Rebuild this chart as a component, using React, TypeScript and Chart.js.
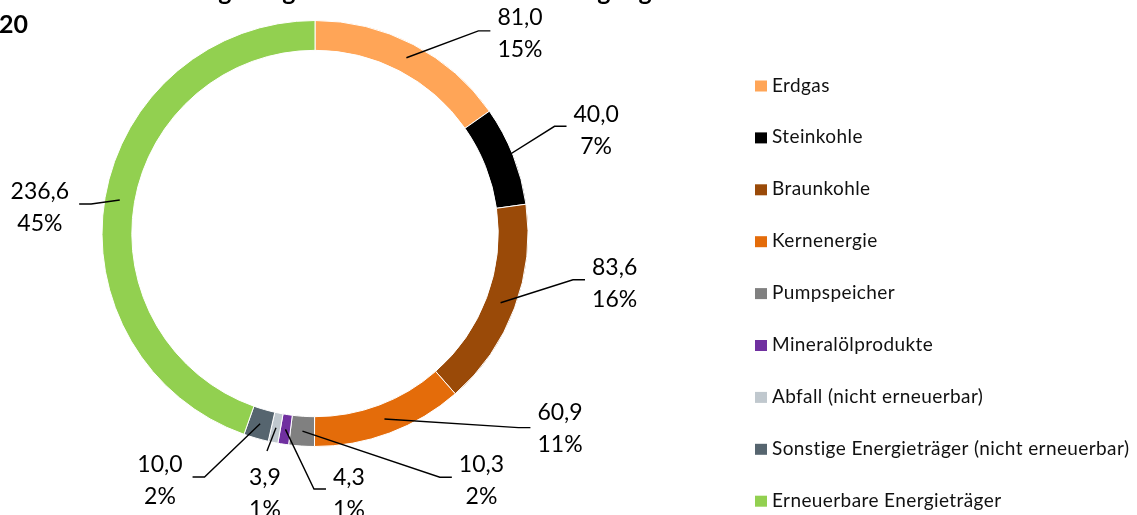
import React, { useEffect, useRef } from 'react';
import { Chart, registerables } from 'chart.js';

Chart.register(...registerables);

const categories = [
  'Erdgas',
  'Steinkohle',
  'Braunkohle',
  'Kernenergie',
  'Pumpspeicher',
  'Mineralölprodukte',
  'Abfall (nicht erneuerbar)',
  'Sonstige Energieträger (nicht erneuerbar)',
  'Erneuerbare Energieträger',
];
const values = [81.0, 40.0, 83.6, 60.9, 10.3, 4.3, 3.9, 10.0, 236.6];
const percentLabels = ['15%', '7%', '16%', '11%', '2%', '1%', '1%', '2%', '45%'];
const colors = ['#FFA557', '#000000', '#9A4A08', '#E46C0A', '#808080', '#7030A0', '#C0C8CE', '#56656F', '#92D050'];
const titleLines = ['Anteil der Energieträger an der Bruttostromerzeugung', '2020'];

// label placement (style): offset of the label centre from its anchor point in the ring
const labelLayout = [
  { dx: 113.6, dy: -25.4, side: 'right', lineDy: -1.5 },
  { dx: 96.8, dy: -31.7, side: 'right', lineDy: -3 },
  { dx: 114, dy: -20, side: 'right', lineDy: -3 },
  { dx: 175.6, dy: 8.6, side: 'right', lineDy: 0 },
  { dx: 179, dy: 48.5, side: 'right', lineDy: -2.5 },
  { dx: 63.5, dy: 63.2, side: 'right', lineDy: -3.5 },
  { dx: -11, dy: 64.9, side: 'below', lineDy: -41.5 },
  { dx: -100.2, dy: 55.7, side: 'left', lineDy: -2.5 },
  { dx: -79.9, dy: 6, side: 'left', lineDy: -2 },
];

const fmt = (v: number) => v.toFixed(1).replace('.', ',');

const overlayPlugin = {
  id: 'overlay',
  afterDraw(chart: any) {
    const ctx = chart.ctx as any;
    const meta = chart.getDatasetMeta(0);
    ctx.save();

    // title (cropped at the top edge like the reference)
    ctx.fillStyle = '#000';
    ctx.font = 'bold 25px Lato';
    ctx.textBaseline = 'alphabetic';
    ctx.textAlign = 'left';
    const pre = ctx.measureText('Anteil der Ener').width;
    const gw = ctx.measureText('g').width;
    ctx.fillText(titleLines[0], 225 - pre - gw / 2, 0);
    ctx.textAlign = 'right';
    ctx.fillText(titleLines[1], 28, 33);

    // data labels with leader lines
    ctx.font = '23px Lato';
    meta.data.forEach((arc: any, i: number) => {
      const p = arc.getProps(['x', 'y', 'startAngle', 'endAngle', 'innerRadius', 'outerRadius'], true);
      const a = (p.startAngle + p.endAngle) / 2;
      const r = (p.innerRadius + p.outerRadius) / 2;
      const ax = p.x + Math.cos(a) * r;
      const ay = p.y + Math.sin(a) * r;
      const L = labelLayout[i];
      const cx = ax + L.dx;
      const my = ay + L.dy;
      const t1 = fmt(values[i]);
      const t2 = percentLabels[i];
      const w = Math.max(ctx.measureText(t1).width, ctx.measureText(t2).width);

      ctx.strokeStyle = '#000';
      ctx.lineWidth = 1.4;
      ctx.beginPath();
      ctx.moveTo(ax, ay);
      if (L.side === 'right') {
        const hx = cx - w / 2 - 7;
        const hy = my + L.lineDy;
        ctx.lineTo(hx - 12, hy);
        ctx.lineTo(hx, hy);
      } else if (L.side === 'left') {
        const hx = cx + w / 2 + 10;
        const hy = my + L.lineDy;
        ctx.lineTo(hx + 12, hy);
        ctx.lineTo(hx, hy);
      } else {
        ctx.lineTo(cx + 2, my + L.lineDy);
      }
      ctx.stroke();

      ctx.fillStyle = '#000';
      ctx.textAlign = 'center';
      ctx.fillText(t1, cx, my - 7.5);
      ctx.fillText(t2, cx, my + 24.5);
    });

    // legend
    ctx.font = '19px Lato';
    ctx.letterSpacing = '0.4px';
    ctx.textAlign = 'left';
    const ds = chart.data.datasets[0];
    chart.data.labels.forEach((lab: string, i: number) => {
      const cy = 86 + i * 51.9;
      ctx.fillStyle = ds.backgroundColor[i];
      ctx.fillRect(755, cy - 5.5, 12, 11);
      ctx.fillStyle = '#111';
      ctx.fillText(lab, 772, cy + 5.5);
    });
    ctx.letterSpacing = '0px';
    ctx.restore();
  },
};

export default function App() {
  const ref = useRef<HTMLCanvasElement | null>(null);
  useEffect(() => {
    document.body.style.margin = '0';
    const chart = new Chart(ref.current as HTMLCanvasElement, {
      type: 'doughnut',
      data: {
        labels: categories,
        datasets: [
          {
            data: values,
            backgroundColor: colors,
            borderColor: '#ffffff',
            borderWidth: 1,
          },
        ],
      },
      options: {
        responsive: false,
        animation: false,
        cutout: '86%',
        layout: { padding: { left: 101, right: 608, top: 20, bottom: 68 } },
        plugins: {
          legend: { display: false },
          tooltip: { enabled: false },
          title: { display: false },
        },
      },
      plugins: [overlayPlugin],
    });
    return () => chart.destroy();
  }, []);
  return (
    <div style={{ width: 1137, height: 515, background: '#fff' }}>
      <canvas ref={ref} width={1137} height={515} />
    </div>
  );
}
